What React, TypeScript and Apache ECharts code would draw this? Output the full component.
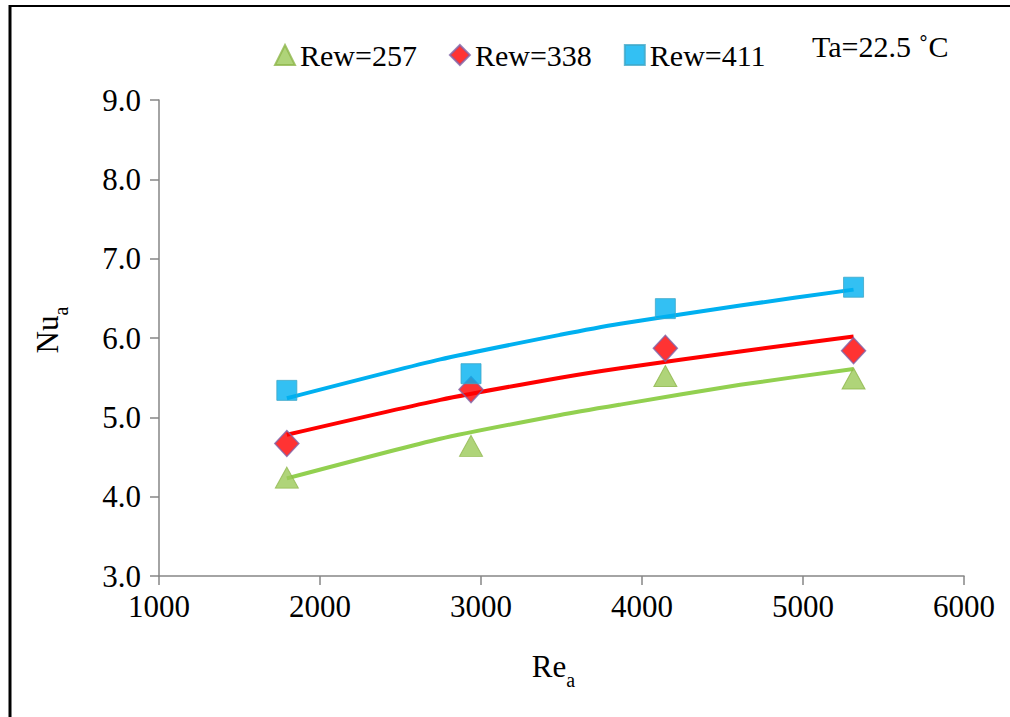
import React, { useEffect, useRef } from "react";
import * as echarts from "echarts";

const reX = [1794, 2938, 4145, 5314];
const nu257 = [4.24, 4.64, 5.52, 5.49];
const nu338 = [4.67, 5.35, 5.87, 5.84];
const nu411 = [5.34, 5.55, 6.37, 6.64];

const trendX = [1794, 2747, 3492, 3865, 4610, 5314];
const fit257 = [4.23, 4.73, 5.03, 5.16, 5.41, 5.61];
const fit338 = [4.78, 5.22, 5.5, 5.62, 5.83, 6.02];
const fit411 = [5.24, 5.73, 6.04, 6.18, 6.41, 6.61];

const seriesNames = ["Rew=257", "Rew=338", "Rew=411"];
const annotation = "Ta=22.5 ˚C";

const FONT = "'Liberation Serif', 'Times New Roman', serif";
const GREEN = "#92D050";
const RED = "#FF0000";
const BLUE = "#00B0F0";
const AXIS = "#868686";

const pairs = (xs: number[], ys: number[]) => xs.map((x, i) => [x, ys[i]]);

export default function App() {
  const ref = useRef<HTMLDivElement>(null);
  useEffect(() => {
    if (!ref.current) return;
    const chart = echarts.init(ref.current, undefined, { renderer: "svg" });
    const trend = (name: string, xs: number[], ys: number[], color: string) => ({
      name: name + " fit",
      type: "line",
      data: pairs(xs, ys),
      smooth: 0.2,
      showSymbol: false,
      symbol: "none",
      lineStyle: { color, width: 4 },
      z: 1,
      silent: true,
    });
    const rich = {
      m: { fontFamily: FONT, fontSize: 31, color: "#000", verticalAlign: "top" },
      s: { fontFamily: FONT, fontSize: 20, color: "#000", verticalAlign: "bottom", padding: [19, 0, 0, 0] },
    };
    chart.setOption({
      animation: false,
      backgroundColor: "#ffffff",
      grid: { left: 159, right: 46, top: 100, bottom: 141 },
      legend: {
        data: seriesNames,
        left: 269,
        top: 35,
        itemWidth: 20,
        itemHeight: 20,
        itemGap: 32,
        textStyle: { fontFamily: FONT, fontSize: 30, color: "#000" },
      },
      graphic: [
        {
          type: "text",
          left: 812,
          top: 31,
          style: { text: annotation, fontFamily: FONT, fontSize: 30, fill: "#000" },
        },
        { type: "line", shape: { x1: 10, y1: 6, x2: 1010, y2: 6 }, style: { stroke: "#000", lineWidth: 2 } },
        { type: "line", shape: { x1: 10, y1: 5, x2: 10, y2: 717 }, style: { stroke: "#000", lineWidth: 3 } },
      ],
      xAxis: {
        type: "value",
        min: 1000,
        max: 6000,
        interval: 1000,
        splitLine: { show: false },
        axisLine: { show: true, lineStyle: { color: AXIS, width: 1.5 } },
        axisTick: { show: true, length: 9, lineStyle: { color: AXIS, width: 1.5 } },
        axisLabel: {
          fontFamily: FONT,
          fontSize: 31,
          color: "#000",
          margin: 15,
          formatter: (v: number) => String(v),
        },
        name: "{m|Re}{s|a}",
        nameLocation: "middle",
        nameGap: 75,
        nameTextStyle: { rich, padding: [0, 16, 0, 0] },
      },
      yAxis: {
        type: "value",
        min: 3,
        max: 9,
        interval: 1,
        splitLine: { show: false },
        axisLine: { show: true, lineStyle: { color: AXIS, width: 1.5 } },
        axisTick: { show: true, length: 9, lineStyle: { color: AXIS, width: 1.5 } },
        axisLabel: {
          fontFamily: FONT,
          fontSize: 31,
          color: "#000",
          margin: 18,
          formatter: (v: number) => v.toFixed(1),
        },
        name: "{m|Nu}{s|a}",
        nameLocation: "middle",
        nameGap: 88,
        nameRotate: 90,
        nameTextStyle: { rich, padding: [0, 0, 0, 16] },
      },
      series: [
        trend(seriesNames[0], trendX, fit257, GREEN),
        trend(seriesNames[1], trendX, fit338, RED),
        trend(seriesNames[2], trendX, fit411, BLUE),
        {
          name: seriesNames[0],
          type: "scatter",
          data: pairs(reX, nu257),
          symbol: "triangle",
          symbolSize: [23, 21],
          itemStyle: { color: "#9BC957", borderColor: "#8DB54A", borderWidth: 1 },
          z: 3,
        },
        {
          name: seriesNames[1],
          type: "scatter",
          data: pairs(reX, nu338),
          symbol: "diamond",
          symbolSize: [24, 26],
          itemStyle: { color: RED, borderColor: "#7F63A8", borderWidth: 1.5 },
          z: 3,
        },
        {
          name: seriesNames[2],
          type: "scatter",
          data: pairs(reX, nu411),
          symbol: "rect",
          symbolSize: [20, 20],
          itemStyle: { color: BLUE, borderColor: "#3FA8C8", borderWidth: 1 },
          z: 3,
        },
      ],
    });
    return () => chart.dispose();
  }, []);
  return (
    <div
      ref={ref}
      style={{ position: "fixed", left: 0, top: 0, width: 1010, height: 717, background: "#fff" }}
    />
  );
}
